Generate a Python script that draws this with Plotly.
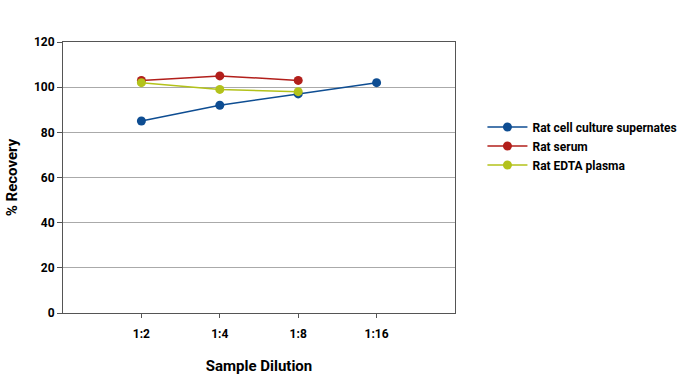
import plotly.graph_objects as go

categories = ["1:2", "1:4", "1:8", "1:16"]
cell_culture = [85, 92, 97, 102]
serum = [103, 105, 103]
edta_plasma = [102, 99, 98]

font_family = "Roboto, 'DejaVu Sans', sans-serif"

fig = go.Figure()
series = [
    ("Rat cell culture supernates", cell_culture, "#0E4D92"),
    ("Rat serum", serum, "#B21F1B"),
    ("Rat EDTA plasma", edta_plasma, "#B3C21A"),
]
for name, vals, color in series:
    fig.add_trace(go.Scatter(
        x=categories[:len(vals)], y=vals, name=name, mode="lines+markers",
        line=dict(color=color, width=1.5),
        marker=dict(color=color, size=9),
    ))

fig.update_layout(
    width=694, height=377,
    margin=dict(l=63, r=239, t=42, b=64, autoexpand=False),
    plot_bgcolor="white", paper_bgcolor="white",
    font=dict(family=font_family, size=12, color="black"),
    showlegend=True,
    legend=dict(x=1.07, y=0.74, xanchor="left", yanchor="top",
                font=dict(family=font_family, size=12, color="black", weight="bold"),
                tracegroupgap=0, itemwidth=40),
    xaxis=dict(
        type="category", categoryorder="array", categoryarray=categories,
        range=[-1, 4],
        showgrid=False, showline=True, linecolor="#555555", linewidth=1, mirror=True,
        ticks="outside", ticklen=4, tickcolor="#555555",
        ticklabelstandoff=6,
        tickfont=dict(family=font_family, size=12, weight="bold"),
        title=dict(text="Sample Dilution", standoff=20,
                   font=dict(family=font_family, size=15, weight="bold")),
    ),
    yaxis=dict(
        range=[0, 120], dtick=20,
        showgrid=True, gridcolor="#AAAAAA", gridwidth=1,
        showline=True, linecolor="#555555", linewidth=1, mirror=True,
        ticks="outside", ticklen=5, tickcolor="#555555",
        tickfont=dict(family=font_family, size=12, weight="bold"),
        title=dict(text="% Recovery", standoff=12,
                   font=dict(family=font_family, size=15, weight="bold")),
        zeroline=False,
    ),
)

fig.write_html("out.html", config={"displayModeBar": False},
               post_script="document.body.style.margin='0';")
